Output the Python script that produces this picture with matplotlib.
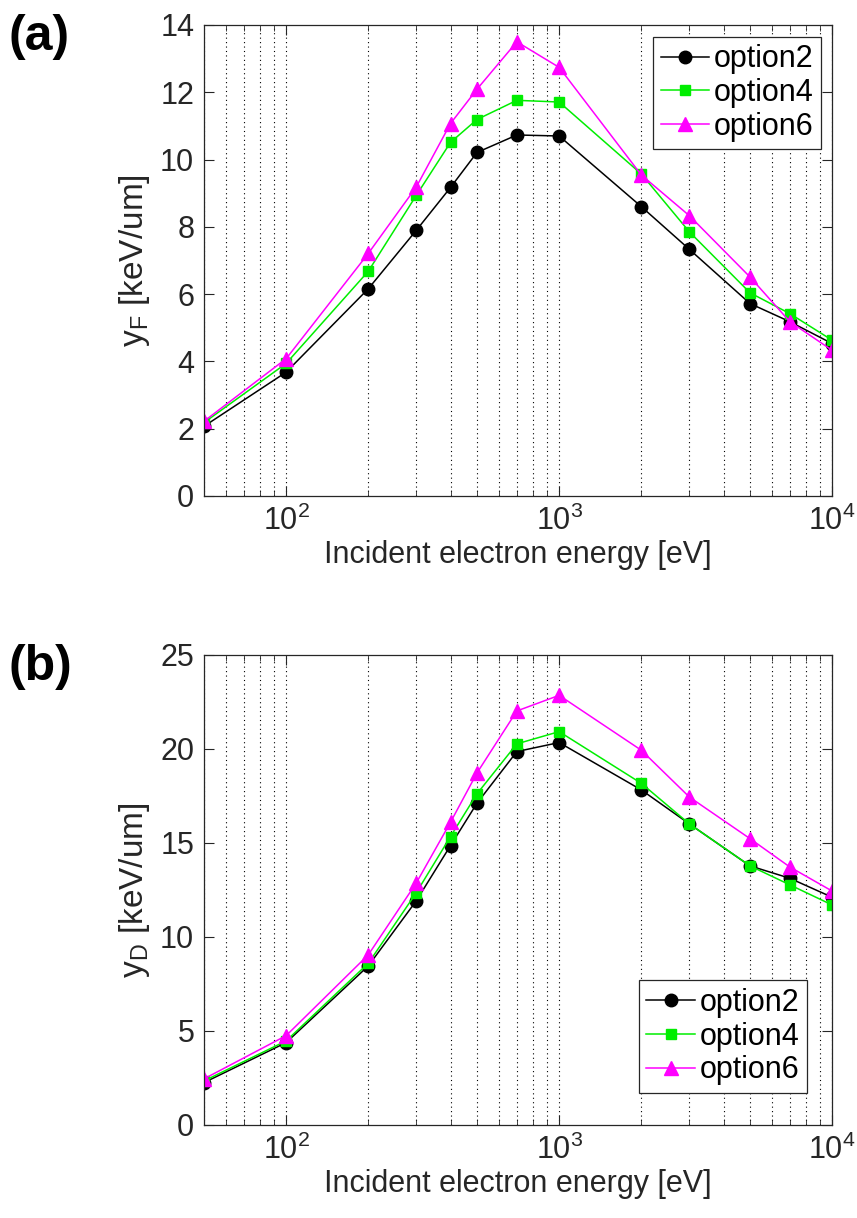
import matplotlib
matplotlib.use('Agg')
import matplotlib.pyplot as plt
from matplotlib.ticker import LogLocator, NullFormatter

plt.rcParams['font.family'] = ['Liberation Sans', 'DejaVu Sans']
plt.rcParams['mathtext.fontset'] = 'custom'
plt.rcParams['mathtext.rm'] = 'Liberation Sans'
plt.rcParams['mathtext.it'] = 'Liberation Sans:italic'

energy = [50, 100, 200, 300, 400, 500, 700, 1000, 2000, 3000, 5000, 7000, 10000]

# frequency-mean lineal energy
yf_option2 = [2.07, 3.68, 6.16, 7.90, 9.17, 10.21, 10.73, 10.70, 8.60, 7.33, 5.72, 5.18, 4.53]
yf_option4 = [2.18, 3.94, 6.68, 8.94, 10.51, 11.19, 11.76, 11.71, 9.57, 7.85, 6.04, 5.42, 4.63]
yf_option6 = [2.22, 4.08, 7.21, 9.19, 11.07, 12.09, 13.50, 12.74, 9.54, 8.33, 6.51, 5.18, 4.33]

# dose-mean lineal energy
yd_option2 = [2.25, 4.38, 8.46, 11.93, 14.86, 17.11, 19.86, 20.34, 17.82, 16.01, 13.78, 13.12, 12.11]
yd_option4 = [2.34, 4.47, 8.60, 12.36, 15.34, 17.61, 20.27, 20.92, 18.17, 16.01, 13.78, 12.77, 11.70]
yd_option6 = [2.45, 4.75, 9.05, 12.88, 16.10, 18.72, 22.02, 22.85, 19.93, 17.44, 15.23, 13.72, 12.44]

labels = ['option2', 'option4', 'option6']
styles = [dict(color='black', marker='o', markersize=9),
          dict(color='#00ee00', marker='s', markersize=6.5),
          dict(color='magenta', marker='^', markersize=10)]
axcol = '#262626'
fs = 22


def draw_panel(ax, series, ylim, yticks, ylabel, legend_loc, legend_anchor):
    for vals, lab, st in zip(series, labels, styles):
        ax.plot(energy, vals, label=lab, linewidth=1.1,
                markerfacecolor=st['color'], markeredgecolor=st['color'], **st)
    ax.set_xscale('log')
    ax.set_xlim(50, 10000)
    ax.set_ylim(*ylim)
    ax.set_yticks(yticks)
    ax.xaxis.set_major_locator(LogLocator(base=10, numticks=10))
    ax.xaxis.set_minor_locator(LogLocator(base=10, subs=range(2, 10), numticks=20))
    ax.xaxis.set_minor_formatter(NullFormatter())
    ax.grid(True, which='both', axis='x', linestyle=(0, (1, 3)), color='black', linewidth=0.8)
    ax.tick_params(which='both', direction='in', top=True, right=True,
                   labelsize=fs, colors=axcol, labelcolor=axcol)
    ax.tick_params(which='major', length=7, width=0.8, pad=7)
    ax.tick_params(which='minor', length=4, width=0.6)
    for s in ax.spines.values():
        s.set_color(axcol)
        s.set_linewidth(0.9)
    ax.set_xlabel('Incident electron energy [eV]', fontsize=fs, color=axcol, labelpad=2)
    ax.set_ylabel(ylabel, fontsize=fs + 2, color=axcol, labelpad=6)
    leg = ax.legend(loc=legend_loc, bbox_to_anchor=legend_anchor, fontsize=fs,
                    fancybox=False, framealpha=1, edgecolor=axcol,
                    handlelength=1.6, handletextpad=0.15, borderpad=0.25,
                    labelspacing=0.12, borderaxespad=0)
    leg.get_frame().set_linewidth(0.9)


fig = plt.figure(figsize=(8.57, 12.18), dpi=100)
ax1 = fig.add_axes([0.238, 0.5928, 0.733, 0.3867])
ax2 = fig.add_axes([0.238, 0.0764, 0.733, 0.3859])

draw_panel(ax1, [yf_option2, yf_option4, yf_option6], (0, 14), range(0, 15, 2),
           r'y$_\mathrm{F}$ [keV/um]', 'upper right', (0.983, 0.975))
draw_panel(ax2, [yd_option2, yd_option4, yd_option6], (0, 25), range(0, 26, 5),
           r'y$_\mathrm{D}$ [keV/um]', 'lower right', (0.96, 0.068))

fig.text(0.01, 0.97, '(a)', fontsize=36, fontweight='bold', va='center')
fig.text(0.01, 0.452, '(b)', fontsize=36, fontweight='bold', va='center')

fig.savefig('out.png', dpi=100)
